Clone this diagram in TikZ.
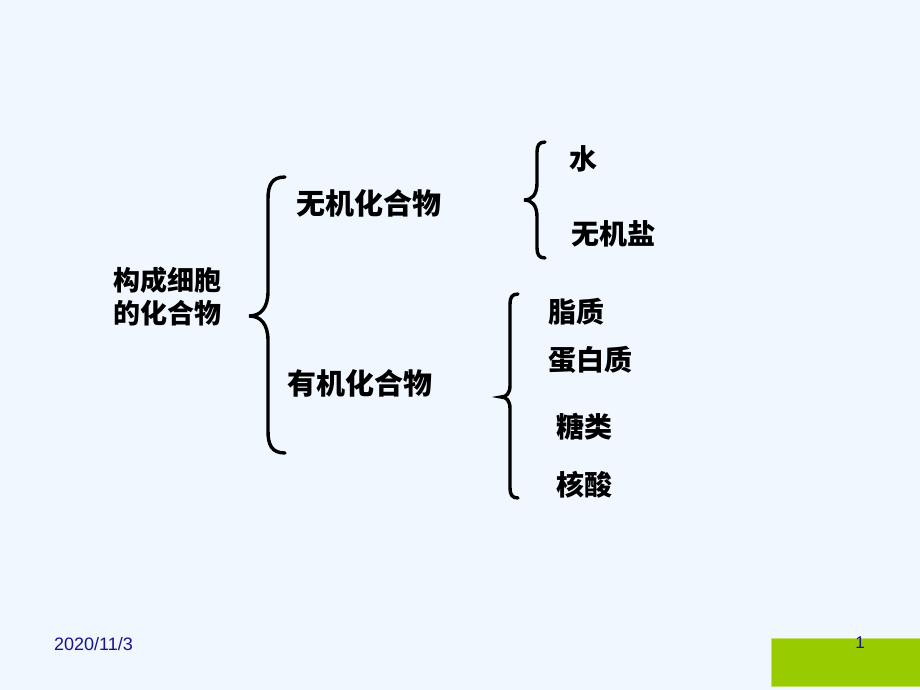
\documentclass[tikz,border=0pt]{standalone}
\usepackage{fontspec}
\usepackage{graphicx}
\setmainfont{Liberation Sans}
\newfontfamily\cjk{Noto Sans CJK SC}
\definecolor{slidebg}{RGB}{240,247,254}
\definecolor{slideblue}{RGB}{20,20,140}
\definecolor{slidegreen}{RGB}{153,204,0}

% curly brace: x of stem, top y, tip y, bottom y, end hook, tip depth
\newcommand{\cbrace}[6]{%
  \draw[bracestyle] ({#1+#5},#2)
    .. controls ({#1+0.2*#5},#2) and (#1,{#2+0.5*#5}) .. (#1,{#2+1.3*#5})
    -- (#1,{#3-1.3*#6})
    .. controls (#1,{#3-0.4*#6}) and ({#1-0.4*#6},#3) .. ({#1-#6},#3)
    .. controls ({#1-0.4*#6},#3) and (#1,{#3+0.4*#6}) .. (#1,{#3+1.3*#6})
    -- (#1,{#4-1.3*#5})
    .. controls (#1,{#4-0.5*#5}) and ({#1+0.2*#5},#4) .. ({#1+#5},#4);}

\begin{document}
\begin{tikzpicture}[
    x=1pt, y=-1pt,
    bracestyle/.style={line width=3.4pt, line cap=round, black},
    every node/.style={inner sep=0pt, anchor=west, align=left},
    rootlabel/.style={font=\cjk\bfseries\fontsize{27}{33}\selectfont},
    grouplabel/.style={font=\cjk\bfseries\fontsize{29}{34}\selectfont},
    itemlabel/.style={font=\cjk\bfseries\fontsize{28}{33}\selectfont},
    footer/.style={font=\fontsize{18}{20}\selectfont, text=slideblue}
]
\useasboundingbox[fill=slidebg] (0,0) rectangle (920,690);

% footer bar
\fill[slidegreen, draw=slidegreen!60!white, line width=1pt] (771,638) rectangle (921,686);
\node[footer] (date) at (54,644) {2020/11/3};
\node[footer, anchor=center, font=\fontsize{17}{19}\selectfont] (page) at (860,643) {1};

% root
\node[rootlabel] (comp) at (113,297) {构成细胞\\的化合物};
\cbrace{268}{177}{316}{453}{17}{19}

% inorganic / organic
\node[grouplabel] (inorg) at (296,203) {无机化合物};
\node[grouplabel] (org) at (287,383) {有机化合物};

% inorganic items
\cbrace{537}{142}{200}{258}{8}{13}
\node[itemlabel] (water) at (569,159) {水};
\node[itemlabel] (salt) at (571,234) {无机盐};

% organic items
\cbrace{510}{294}{397}{498}{8}{9}
\node[itemlabel] (lipid) at (548,312) {脂质};
\node[itemlabel] (protein) at (548,360) {蛋白质};
\node[itemlabel] (sugar) at (556,427) {糖类};
\node[itemlabel] (nucleic) at (556,485) {核酸};
\end{tikzpicture}
\end{document}
